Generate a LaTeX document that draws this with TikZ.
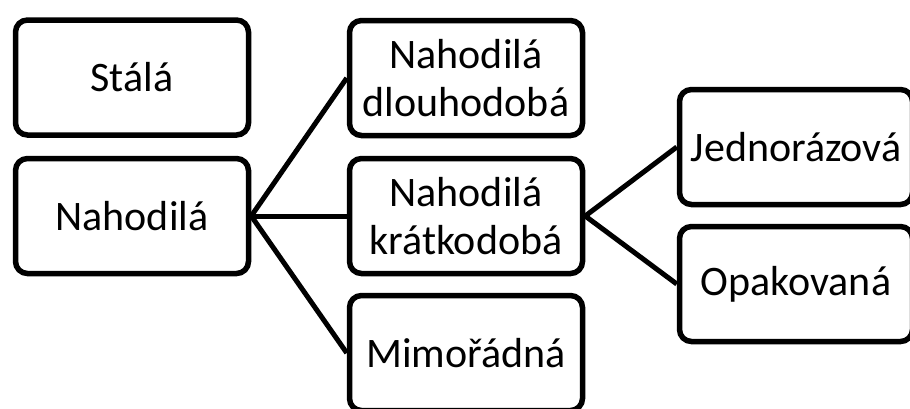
\documentclass[tikz,border=0pt]{standalone}
\usepackage{fontspec}
\setmainfont{Carlito}
\begin{document}
\begin{tikzpicture}[x=1pt,y=-1pt,
  box/.style={draw=black, line width=5.5pt, rounded corners=12pt, fill=white,
    minimum width=233pt, minimum height=115pt, align=center, inner sep=2pt,
    font=\fontsize{42}{48}\selectfont},
  conn/.style={draw=black, line width=5pt}]
\useasboundingbox[fill=white] (0,0) rectangle (910,408);
\node[box] (st) at (132,77.5) {Stálá};
\node[box] (nah) at (132,216) {Nahodilá};
\node[box] (dl) at (466,78) {Nahodilá\\dlouhodobá};
\node[box] (kr) at (466,216) {Nahodilá\\krátkodobá};
\node[box] (mi) at (466,353) {Mimořádná};
\node[box] (je) at (796,147) {Jednorázová};
\node[box] (op) at (796,284) {Opakovaná};
\draw[conn] (nah.east) -- (dl.west);
\draw[conn] (nah.east) -- (kr.west);
\draw[conn] (nah.east) -- (mi.west);
\draw[conn] (kr.east) -- (je.west);
\draw[conn] (kr.east) -- (op.west);
\end{tikzpicture}
\end{document}
